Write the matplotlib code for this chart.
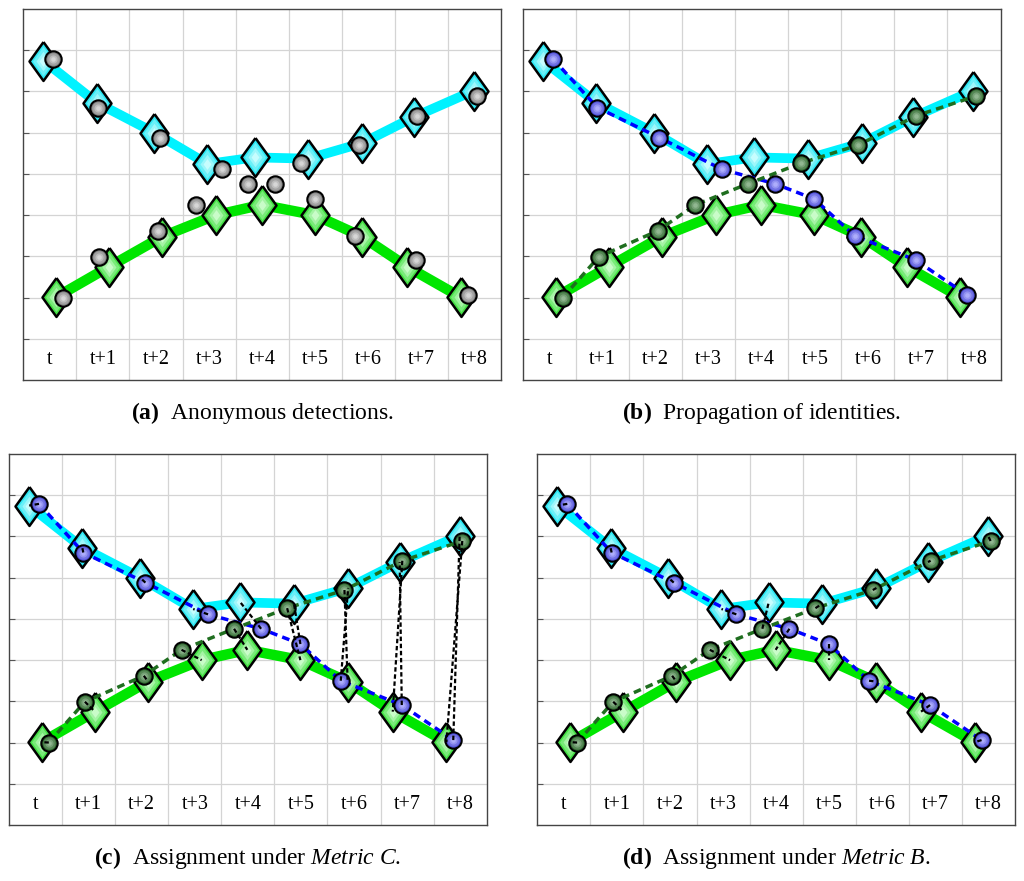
import numpy as np
import matplotlib
matplotlib.use("Agg")
import matplotlib.pyplot as plt
from matplotlib.colors import to_rgb

plt.rcParams["font.family"] = "Liberation Serif"
plt.rcParams["mathtext.fontset"] = "custom"
plt.rcParams["mathtext.rm"] = "Liberation Serif"
plt.rcParams["mathtext.it"] = "Liberation Serif:italic"
plt.rcParams["mathtext.bf"] = "Liberation Serif:bold"

# frames along the time axis (one grid column each)
frames = ["t", "t+1", "t+2", "t+3", "t+4", "t+5", "t+6", "t+7", "t+8"]

# ground-truth tracks (diamonds), in grid units
cyan_x = [0.38, 1.38, 2.47, 3.47, 4.36, 5.37, 6.39, 7.36, 8.49]
cyan_y = [7.75, 6.73, 6.00, 5.24, 5.40, 5.37, 5.75, 6.38, 7.02]
green_x = [0.62, 1.62, 2.62, 3.63, 4.49, 5.49, 6.38, 7.23, 8.24]
green_y = [2.01, 2.75, 3.48, 4.00, 4.25, 4.00, 3.48, 2.75, 2.01]

# detections (circles), grouped by propagated identity
blue_x = [0.565, 1.40, 2.57, 3.75, 4.75, 5.49, 6.25, 7.40, 8.37]
blue_y = [7.79, 6.61, 5.88, 5.11, 4.76, 4.39, 3.50, 2.91, 2.06]
dkg_x = [0.75, 1.43, 2.54, 3.25, 4.24, 5.24, 6.32, 7.41, 8.54]
dkg_y = [2.00, 2.99, 3.62, 4.25, 4.76, 5.26, 5.70, 6.41, 6.89]

# which track each detection is assigned to ("c" = cyan, "g" = green)
metric_c_blue = ["c", "c", "c", "c", "c", "c", "c", "c", "c"]
metric_c_dkg = ["g", "g", "g", "g", "g", "g", "g", "g", "g"]
metric_b_blue = ["c", "c", "c", "c", "g", "g", "g", "g", "g"]
metric_b_dkg = ["g", "g", "g", "g", "c", "c", "c", "c", "c"]

captions = {
    "a": r"$\mathbf{(a)}$  Anonymous detections.",
    "b": r"$\mathbf{(b)}$  Propagation of identities.",
    "c": r"$\mathbf{(c)}$  Assignment under $\mathit{Metric\ C}$.",
    "d": r"$\mathbf{(d)}$  Assignment under $\mathit{Metric\ B}$.",
}

DIAMOND = [(0, 1), (0.72, 0), (0, -1), (-0.72, 0), (0, 1)]


def mix(c1, c2, t):
    a, b = np.array(to_rgb(c1)), np.array(to_rgb(c2))
    return tuple(a + (b - a) * t)


def shaded(ax, x, y, marker, ms, outer, inner, mew, z):
    ax.plot(x, y, ls="none", marker=marker, ms=ms, mfc=outer, mec="black",
            mew=mew, zorder=z)
    for f, t in [(0.75, 0.35), (0.5, 0.65), (0.28, 0.9)]:
        ax.plot(x, y, ls="none", marker=marker, ms=ms * f, mfc=mix(outer, inner, t),
                mec="none", zorder=z)


def links(ax, det_x, det_y, assign):
    for i in range(len(frames)):
        tx = cyan_x[i] if assign[i] == "c" else green_x[i]
        ty = cyan_y[i] if assign[i] == "c" else green_y[i]
        ax.plot([det_x[i], tx], [det_y[i], ty], color="black", lw=1.6,
                dashes=(2.0, 1.2), zorder=7)


def draw_panel(ax, key):
    ax.set_xlim(0, 9)
    ax.set_ylim(0, 9)
    ax.set_xticks(range(1, 9))
    ax.set_yticks(range(1, 9))
    ax.grid(True, color="#d4d4d4", lw=0.9)
    ax.set_axisbelow(True)
    ax.tick_params(axis="x", length=0, labelbottom=False)
    ax.tick_params(axis="y", direction="in", length=4, width=0.8, color="#555555",
                   labelleft=False)
    for s in ax.spines.values():
        s.set_color("#444444")
        s.set_linewidth(1.0)

    for i, lab in enumerate(frames):
        ax.text(i + 0.5, 0.5, lab, ha="center", va="center", fontsize=14.5)

    ax.plot(cyan_x, cyan_y, color="#00f2ff", lw=7, solid_joinstyle="round",
            solid_capstyle="round", zorder=2)
    ax.plot(green_x, green_y, color="#00e600", lw=7.5, solid_joinstyle="round",
            solid_capstyle="round", zorder=2)
    shaded(ax, cyan_x, cyan_y, DIAMOND, 28, "#2ee8f4", "#d8ffff", 1.8, 3)
    shaded(ax, green_x, green_y, DIAMOND, 28, "#45e045", "#d8ffd8", 1.8, 3)

    if key == "a":
        shaded(ax, blue_x + dkg_x, blue_y + dkg_y, "o", 11.8, "#808080", "#e0e0e0", 1.5, 5)
    else:
        ax.plot(blue_x, blue_y, color="#0000ff", lw=2.5, dashes=(2.2, 1.5), zorder=4)
        ax.plot(dkg_x, dkg_y, color="#1f6e1f", lw=2.5, dashes=(2.2, 1.5), zorder=4)
        shaded(ax, blue_x, blue_y, "o", 11.8, "#4d4dd6", "#b8b8ff", 1.5, 5)
        shaded(ax, dkg_x, dkg_y, "o", 11.8, "#2e682e", "#9cc09c", 1.5, 5)

    if key == "c":
        links(ax, blue_x, blue_y, metric_c_blue)
        links(ax, dkg_x, dkg_y, metric_c_dkg)
    elif key == "d":
        links(ax, blue_x, blue_y, metric_b_blue)
        links(ax, dkg_x, dkg_y, metric_b_dkg)

    ax.text(0.5, -0.089, captions[key], transform=ax.transAxes, ha="center",
            va="center", fontsize=17)


W, H = 1024, 881
fig = plt.figure(figsize=(W / 100, H / 100), dpi=100)
boxes = {
    "a": (23.3, 9, 477.7, 371),
    "b": (523, 9, 477.5, 371),
    "c": (9, 454, 477.7, 371),
    "d": (537.3, 454, 477.7, 371),
}
for key, (l, t, w, h) in boxes.items():
    ax = fig.add_axes([l / W, (H - t - h) / H, w / W, h / H])
    draw_panel(ax, key)

fig.savefig("out.png", dpi=100)
